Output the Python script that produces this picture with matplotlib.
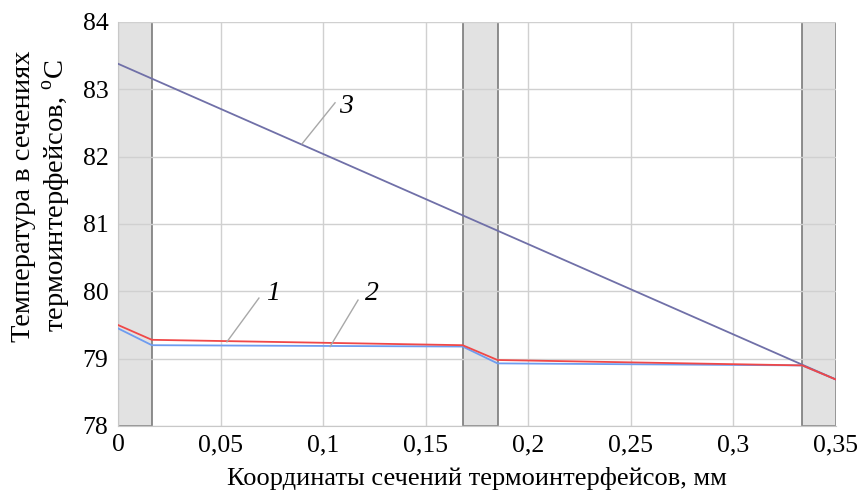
import matplotlib
matplotlib.use("Agg")
import matplotlib.pyplot as plt

plt.rcParams['font.family'] = ['Liberation Serif', 'DejaVu Serif']
plt.rcParams['mathtext.fontset'] = 'custom'
plt.rcParams['mathtext.rm'] = 'Liberation Serif'

# Data
x_pts = [0, 0.0165, 0.168, 0.185, 0.3335, 0.35]
curve1 = [79.50, 79.28, 79.20, 78.98, 78.90, 78.69]
curve2 = [79.45, 79.20, 79.18, 78.93, 78.90, 78.69]
curve3_x = [0, 0.35]
curve3 = [83.38, 78.69]
bars = [(0, 0.0165), (0.168, 0.185), (0.3335, 0.35)]
xticks = [0, 0.05, 0.1, 0.15, 0.2, 0.25, 0.3, 0.35]
xtick_labels = ['0', '0,05', '0,1', '0,15', '0,2', '0,25', '0,3', '0,35']
yticks = [78, 79, 80, 81, 82, 83, 84]

fig = plt.figure(figsize=(8.57, 4.96), dpi=100)
ax = fig.add_axes([118/857, 1-426/496, (836-118)/857, (426-22)/496])

ax.set_xlim(0, 0.35)
ax.set_ylim(78, 84)
ax.set_xticks(xticks)
ax.set_xticklabels(xtick_labels)
ax.set_yticks(yticks)
ax.grid(True, color='#d0d0d0', linewidth=1.0, zorder=0)
ax.tick_params(axis='x', length=0, labelsize=18.5, pad=6)
ax.tick_params(axis='y', length=0, labelsize=18.5, pad=7)
for s in ['top', 'right']:
    ax.spines[s].set_visible(False)
for s in ['left', 'bottom']:
    ax.spines[s].set_color('#c8c8c8')

for (a, b) in bars:
    ax.axvspan(a, b, facecolor='#e2e2e2', edgecolor='#7a7a7a', linewidth=1.2, zorder=1)

ax.plot(x_pts, curve2, color='#6e9cf0', linewidth=1.3, zorder=3)
ax.plot(x_pts, curve1, color='#f04848', linewidth=1.3, zorder=4)
ax.plot(curve3_x, curve3, color='#7070a8', linewidth=1.3, zorder=3)

# white gaps in the 80 gridline behind labels
ax.axvspan(0.0660, 0.0950, ymin=(79.93-78)/6, ymax=(80.07-78)/6, facecolor='white', edgecolor='none', zorder=0.5)
ax.axvspan(0.1140, 0.1365, ymin=(79.93-78)/6, ymax=(80.07-78)/6, facecolor='white', edgecolor='none', zorder=0.5)

lead_kw = dict(color='#a8a8a8', linewidth=1.0, zorder=5)
ax.plot([0.0531, 0.0687], [79.25, 79.90], **lead_kw)
ax.plot([0.1034, 0.1170], [79.18, 79.87], **lead_kw)
ax.plot([0.0897, 0.1058], [82.19, 82.80], **lead_kw)

ax.text(0.0755, 79.97, '1', fontsize=20, style='italic', ha='center', va='center', zorder=6)
ax.text(0.1240, 79.97, '2', fontsize=20, style='italic', ha='center', va='center', zorder=6)
ax.text(0.1110, 82.75, '3', fontsize=20, style='italic', ha='center', va='center', zorder=6)

fig.text(477/857, 1-479/496, 'Координаты сечений термоинтерфейсов, мм', fontsize=19,
         ha='center', va='center')
fig.text(42/857, 1-196/496, 'Температура в сечениях\nтермоинтерфейсов, $^{\\mathrm{o}}$C',
         fontsize=20.5, ha='center', va='center', rotation=90, linespacing=1.2)

fig.savefig('out.png', dpi=100)
